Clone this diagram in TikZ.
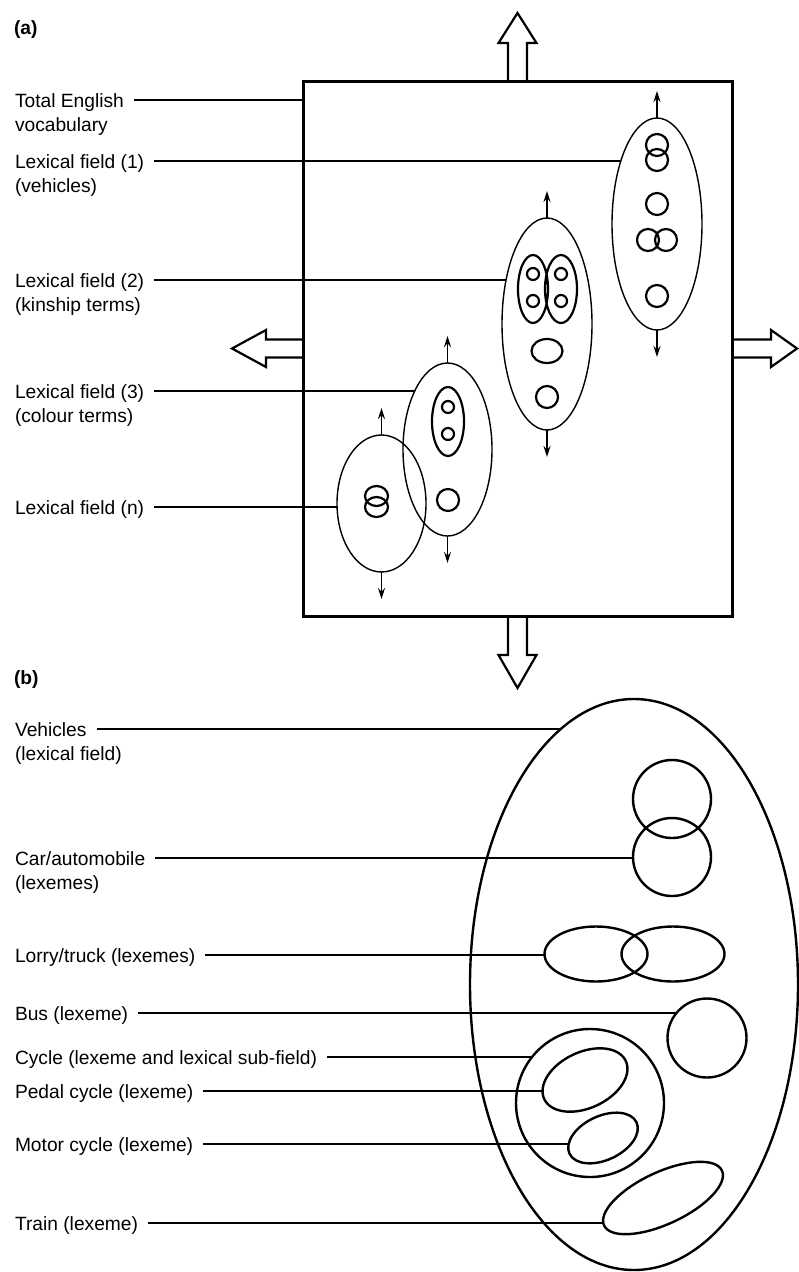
\documentclass[tikz,border=0pt]{standalone}
\usepackage{fontspec}
\setmainfont{Liberation Sans}
\usetikzlibrary{shapes.geometric, arrows.meta}

\tikzset{
  lab/.style={inner sep=0pt, outer sep=0pt, anchor=west, text height=14pt, text depth=0pt, font=\fontsize{19.2}{24}\selectfont},
  part/.style={lab, font=\fontsize{19.2}{24}\selectfont\bfseries},
  conn/.style={line width=1.3pt, shorten <=10pt},
  field/.style={draw, ellipse, line width=1.4pt, inner sep=0pt, outer sep=0pt},
  unit/.style={line width=2.2pt},
  lexeme/.style={draw, ellipse, line width=2.4pt, inner sep=0pt, outer sep=0pt},
  tip/.style={line width=1.4pt, -{Stealth[length=11pt, width=7pt]}},
  block/.style={line width=2.2pt, line join=miter}
}

\begin{document}
\begin{tikzpicture}[x=1pt, y=-1pt]
\useasboundingbox (0,0) rectangle (799,1272);

\node[part] (pa) at (14,27) {(a)};
\node[draw, line width=3pt, inner sep=0pt, outer sep=0pt, minimum width=429, minimum height=535] (box) at (517.5,348.5) {};

\draw[block] ([xshift=-9.5pt]box.north) -- ++(0,-38) -- ++(-9.5,0) -- ++(19,-30) -- ++(19,30) -- ++(-9.5,0) -- ++(0,38);
\draw[block] ([xshift=-9.5pt]box.south) -- ++(0,39) -- ++(-9.5,0) -- ++(19,33) -- ++(19,-33) -- ++(-9.5,0) -- ++(0,-39);
\draw[block] ([yshift=9pt]box.west) -- ++(-37,0) -- ++(0,-9.5) -- ++(-34,18.5) -- ++(34,18.5) -- ++(0,-9.5) -- ++(37,0);
\draw[block] ([yshift=9pt]box.east) -- ++(39,0) -- ++(0,-9.5) -- ++(26,18.5) -- ++(-26,18.5) -- ++(0,-9.5) -- ++(-39,0);

\node[field, minimum width=90, minimum height=212] (f1) at (657,224) {};
\node[field, minimum width=90, minimum height=212] (f2) at (547,324) {};
\node[field, minimum width=89, minimum height=173] (f3) at (447.5,449.5) {};
\node[field, minimum width=89, minimum height=137] (fn) at (381.5,503.5) {};
\foreach \f in {f1,f2,f3,fn} {
  \draw[tip] (\f.north) -- ++(0,-27);
  \draw[tip] (\f.south) -- ++(0,27);
}

\draw[unit] (657,145) circle[radius=11] (657,160) circle[radius=11] (657,204) circle[radius=11]
  (648,240) circle[radius=11] (666,240) circle[radius=11] (657,296) circle[radius=11];
\draw[unit] (533,289) ellipse[x radius=15, y radius=34] (561,289) ellipse[x radius=16, y radius=34];
\draw[unit] (533,274) circle[radius=6] (533,301) circle[radius=6] (561,274) circle[radius=6] (561,301) circle[radius=6];
\draw[unit] (547,351) ellipse[x radius=15.5, y radius=12] (547,397) circle[radius=11];
\draw[unit] (448,421.5) ellipse[x radius=16, y radius=34.5] (448,407) circle[radius=6] (448,434) circle[radius=6] (448,500) circle[radius=11];
\draw[unit] (376.5,496) ellipse[x radius=11.5, y radius=10] (376.5,507) ellipse[x radius=11.5, y radius=10];

\node[lab] (t0) at (15,100) {Total English};
\node[lab] (t0b) at (15,124) {vocabulary};
\node[lab] (t1) at (15,161) {Lexical field (1)};
\node[lab] (t1b) at (15,185) {(vehicles)};
\node[lab] (t2) at (15,280) {Lexical field (2)};
\node[lab] (t2b) at (15,304) {(kinship terms)};
\node[lab] (t3) at (15,391) {Lexical field (3)};
\node[lab] (t3b) at (15,415) {(colour terms)};
\node[lab] (tn) at (15,507) {Lexical field (n)};
\draw[conn] (t0.east) -- (t0.east -| box.west);
\draw[conn] (t1.east) -- (t1.east -| f1.120);
\draw[conn] (t2.east) -- (t2.east -| f2.133);
\draw[conn] (t3.east) -- (t3.east -| f3.119);
\draw[conn] (tn.east) -- (tn.east -| fn.west);

\node[part] (pb) at (14,677) {(b)};
\node[lexeme, minimum width=328, minimum height=571] (veh) at (634,984.5) {};
\node[lexeme, minimum size=78] (car1) at (672,799) {};
\node[lexeme, minimum size=78] (car2) at (672,857) {};
\node[lexeme, minimum width=103, minimum height=55] (lorry1) at (596,954) {};
\node[lexeme, minimum width=103, minimum height=55] (lorry2) at (673,954) {};
\node[lexeme, minimum size=79] (bus) at (707,1038) {};
\node[lexeme, minimum size=148] (cycle) at (590,1103) {};
\node[lexeme, minimum width=90, minimum height=56, rotate=25] (pedal) at (585,1080) {};
\node[lexeme, minimum width=74, minimum height=44, rotate=25] (motor) at (603,1138) {};
\node[lexeme, minimum width=130, minimum height=52, rotate=25] (train) at (663,1198) {};

\node[lab] (s0) at (15,729) {Vehicles};
\node[lab] (s0b) at (15,753) {(lexical field)};
\node[lab] (s1) at (15,858) {Car/automobile};
\node[lab] (s1b) at (15,882) {(lexemes)};
\node[lab] (s2) at (15,955) {Lorry/truck (lexemes)};
\node[lab] (s3) at (15,1013) {Bus (lexeme)};
\node[lab] (s4) at (15,1057) {Cycle (lexeme and lexical sub-field)};
\node[lab] (s5) at (15,1091) {Pedal cycle (lexeme)};
\node[lab] (s6) at (15,1144) {Motor cycle (lexeme)};
\node[lab] (s7) at (15,1223) {Train (lexeme)};
\draw[conn] (s0.east) -- (s0.east -| veh.106);
\draw[conn] (s1.east) -- (s1.east -| car2.west);
\draw[conn] (s2.east) -- (s2.east -| lorry1.west);
\draw[conn] (s3.east) -- (s3.east -| bus.141);
\draw[conn] (s4.east) -- (s4.east -| cycle.142);
\draw[conn] (s5.east) -- (s5.east -| pedal.west);
\draw[conn] (s6.east) -- (s6.east -| motor.west);
\draw[conn] (s7.east) -- (s7.east -| train.west);
\end{tikzpicture}
\end{document}
